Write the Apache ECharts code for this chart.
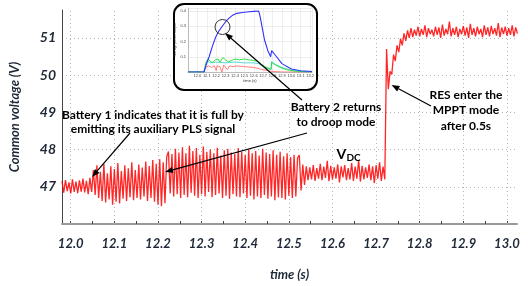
<!DOCTYPE html>
<html>
<head>
<meta charset="utf-8">
<script src="https://cdn.jsdelivr.net/npm/echarts@6/dist/echarts.min.js"></script>
<style>
  html, body { margin: 0; padding: 0; background: #fff; }
  #main { width: 528px; height: 286px; }
</style>
</head>
<body>
<div id="main"></div>
<script>
// sampled DC bus voltage, one value every 4 ms from 11.980 s
var T0 = 11.98, DT = 0.004;
var vdcBefore = [47.15, 46.84, 47.18, 46.88, 47.12, 46.82, 47.20, 46.86, 47.14, 46.83,
  47.17, 46.87, 47.22, 46.85, 47.16, 46.80, 47.24, 46.86];
var vdcBattery1 = [47.45, 46.78, 47.58, 46.70, 47.40, 46.62, 47.62, 46.58, 47.36, 46.66,
  47.55, 46.52, 47.48, 46.60, 47.64, 46.55, 47.42, 46.68, 47.58, 46.62,
  47.50, 46.72, 47.66, 46.64, 47.45, 46.70, 47.60, 46.66, 47.52, 46.74,
  47.68, 46.62, 47.56, 46.70, 47.72, 46.60, 47.62, 46.52, 47.74, 46.48,
  47.66, 46.56, 47.80];
var vdcBattery2 = [47.95, 46.82, 47.88, 46.74, 48.02, 46.80, 47.92, 46.70, 48.06, 46.78,
  47.90, 46.72, 48.10, 46.84, 47.96, 46.76, 48.04, 46.70, 47.86, 46.80,
  48.08, 46.74, 47.94, 46.86, 48.00, 46.72, 47.90, 46.78, 48.05, 46.82,
  47.84, 46.70, 47.98, 46.76, 48.02, 46.68, 47.92, 46.80, 47.88, 46.74,
  48.04, 46.72, 47.94, 46.82, 47.86, 46.70, 48.00, 46.76, 47.90, 46.66,
  47.96, 46.74, 47.84, 46.70, 48.02, 46.78, 47.92, 46.68, 47.88, 46.74,
  47.98, 46.64, 47.86, 46.72, 47.94, 46.70, 47.82, 46.66, 47.90, 46.76,
  47.80, 46.70, 47.86, 46.74, 47.78];
var vdcDroop = [47.85, 46.90, 47.60, 47.05, 47.55, 47.18, 47.52, 47.20, 47.58, 47.16,
  47.50, 47.22, 47.62, 47.18, 47.54, 47.24, 47.70, 47.15, 47.56, 47.20,
  47.52, 47.22, 47.60, 47.12, 47.55, 47.25, 47.58, 47.18, 47.50, 47.20,
  47.64, 47.16, 47.54, 47.22, 47.72, 47.14, 47.56, 47.20, 47.52, 47.24,
  47.60, 47.18, 47.55, 47.10, 47.58, 47.22, 47.66, 47.16, 47.54, 47.20];
var vdcMppt = [50.70, 49.62, 50.10, 50.02, 50.55, 50.38, 50.80, 50.62, 50.98, 50.80,
  51.12, 50.92, 51.20, 51.00, 51.26, 51.02, 51.22, 51.06, 51.30, 51.04,
  51.24, 51.08, 51.34, 51.02, 51.26, 51.10, 51.22, 51.04, 51.30, 51.08,
  51.28, 51.00, 51.36, 51.06, 51.24, 51.10, 51.44, 51.04, 51.26, 51.08,
  51.30, 51.02, 51.24, 51.10, 51.32, 51.06, 51.28, 51.00, 51.38, 51.08,
  51.26, 51.04, 51.30, 51.10, 51.24, 51.02, 51.34, 51.08, 51.28, 51.04,
  51.32, 51.10, 51.26, 51.06, 51.40, 51.02, 51.28, 51.10, 51.30, 51.06,
  51.26, 51.08, 51.34, 51.04, 51.28, 51.12];

var xLabels = [12.0, 12.1, 12.2, 12.3, 12.4, 12.5, 12.6, 12.7, 12.8, 12.9, 13.0];
var xTicks = [12.0, 12.05, 12.1, 12.15, 12.2, 12.25, 12.3, 12.35, 12.4, 12.45, 12.5,
  12.55, 12.6, 12.65, 12.7, 12.75, 12.8, 12.85, 12.9, 12.95, 13.0];
var yLabels = [47, 48, 49, 50, 51];

// inset: storage powers [time, pu]
var insetBlue = [[11.9, 0], [12.07, 0], [12.1, 0.06], [12.125, 0.1], [12.16, 0.17], [12.195, 0.23],
  [12.23, 0.27], [12.265, 0.30], [12.3, 0.33], [12.34, 0.355], [12.37, 0.37], [12.42, 0.385],
  [12.48, 0.39], [12.55, 0.395], [12.6, 0.398], [12.65, 0.40], [12.66, 0.385], [12.675, 0.34],
  [12.69, 0.29], [12.715, 0.21], [12.75, 0.14], [12.78, 0.10], [12.785, 0.095], [12.79, 0.14],
  [12.83, 0.11], [12.9, 0.055], [13.0, 0.02], [13.1, 0.008], [13.22, 0.003]];
var insetGreen = [[11.9, 0], [12.07, 0], [12.09, 0.06], [12.11, 0.085], [12.13, 0.075], [12.16, 0.06],
  [12.19, 0.08], [12.22, 0.085], [12.24, 0.065], [12.27, 0.095], [12.3, 0.08], [12.33, 0.065],
  [12.36, 0.075], [12.4, 0.085], [12.45, 0.08], [12.5, 0.085], [12.55, 0.08], [12.6, 0.075],
  [12.64, 0.07], [12.68, 0.05], [12.72, 0.035], [12.76, 0.025], [12.785, 0.02], [12.79, 0.06],
  [12.82, 0.05], [12.88, 0.03], [12.95, 0.015], [13.05, 0.005], [13.22, 0]];
var insetCyan = [[11.9, 0], [12.07, 0], [12.09, 0.05], [12.11, 0.07], [12.14, 0.06], [12.2, 0.065],
  [12.3, 0.06], [12.4, 0.065], [12.5, 0.06], [12.6, 0.06], [12.65, 0.055], [12.72, 0.03],
  [12.785, 0.015], [12.79, 0.07], [12.83, 0.05], [12.9, 0.03], [13.0, 0.012], [13.1, 0.004], [13.22, 0]];
var insetRed = [[11.9, 0], [12.07, 0], [12.09, 0.03], [12.12, 0.04], [12.15, 0.03], [12.18, 0.04],
  [12.2, 0.01], [12.21, 0.04], [12.24, 0.035], [12.26, 0.0], [12.28, 0.045], [12.3, 0.04],
  [12.32, 0.015], [12.34, 0.04], [12.38, 0.035], [12.42, 0.04], [12.5, 0.035], [12.6, 0.03],
  [12.7, 0.015], [12.78, 0.005], [12.9, 0], [13.22, 0]];
var insetXLabels = [12.0, 12.1, 12.2, 12.3, 12.4, 12.5, 12.6, 12.7, 12.8, 12.9, 13.0, 13.1, 13.2];
var insetYLabels = [0.1, 0.2, 0.3, 0.4];

var vdc = [].concat(vdcBefore, vdcBattery1, vdcBattery2, vdcDroop, vdcMppt);
var vdcData = vdc.map(function (v, i) {
  return [+(T0 + i * DT).toFixed(3), v];
});

var axisFont = { color: '#1f2937', fontWeight: 'bold', fontStyle: 'italic', fontFamily: 'Lato' };
var noteFont = 'bold 12px Lato';

function arrow(x1, y1, x2, y2) {
  var a = Math.atan2(y2 - y1, x2 - x1), L = 8, W = 3;
  var bx = x2 - L * Math.cos(a), by = y2 - L * Math.sin(a);
  return [
    { type: 'line', z: 40, shape: { x1: x1, y1: y1, x2: bx, y2: by }, style: { stroke: '#000', lineWidth: 1.2 } },
    { type: 'polygon', z: 40, shape: { points: [[x2, y2], [bx + W * Math.sin(a), by - W * Math.cos(a)], [bx - W * Math.sin(a), by + W * Math.cos(a)]] }, style: { fill: '#000' } }
  ];
}
function note(text, x, y, font) {
  return { type: 'text', z: 40, style: { text: text, x: x, y: y, font: font || noteFont, fill: '#000',
    textAlign: 'center', textVerticalAlign: 'middle', align: 'center', verticalAlign: 'middle' } };
}

var myChart = echarts.init(document.getElementById('main'));

var option = {
  animation: false,
  grid: [
    { left: 61, top: 10, right: 11, bottom: 58 },
    { left: 188, top: 8, right: 216, bottom: 214 }
  ],
  xAxis: [{
    type: 'value', min: 11.98, max: 13.023,
    name: 'time (s)', nameLocation: 'middle', nameGap: 44,
    nameTextStyle: Object.assign({ fontSize: 13 }, axisFont),
    axisLine: { lineStyle: { color: '#999', width: 2 } },
    axisTick: { inside: true, length: 3, customValues: xTicks, lineStyle: { color: '#444' } },
    axisLabel: Object.assign({ fontSize: 13, margin: 13, customValues: xLabels,
      formatter: function (v) { return v.toFixed(1); } }, axisFont),
    splitLine: { show: false }
  }, {
    gridIndex: 1, type: 'value', min: 11.9, max: 13.22, interval: 0.1, z: 10,
    name: 'time (s)', nameLocation: 'middle', nameGap: 7,
    nameTextStyle: { fontSize: 4, color: '#333' },
    axisLine: { lineStyle: { color: '#999', width: 0.6 } },
    axisTick: { show: false },
    axisLabel: { fontSize: 4, color: '#444', margin: 2, customValues: insetXLabels,
      formatter: function (v) { return v.toFixed(1); } },
    splitLine: { show: true, lineStyle: { color: '#e2e2e2', width: 0.6 } }
  }],
  yAxis: [{
    type: 'value', min: 46, max: 51.75, interval: 1,
    name: 'Common voltage (V)', nameLocation: 'middle', nameGap: 41,
    nameTextStyle: Object.assign({ fontSize: 13 }, axisFont),
    axisLine: { show: true, lineStyle: { color: '#444', width: 1 } },
    axisTick: { show: false },
    axisLabel: Object.assign({ fontSize: 14, margin: 6, padding: [5, 0, 0, 0], customValues: yLabels }, axisFont),
    splitLine: { show: true, showMinLine: false, showMaxLine: false,
      lineStyle: { color: '#b5b5b5', type: [1, 3], width: 1 } }
  }, {
    gridIndex: 1, type: 'value', min: 0, max: 0.42, interval: 0.1, z: 10,
    name: 'Storage power output', nameLocation: 'middle', nameGap: 8,
    nameTextStyle: { fontSize: 3.5, color: '#333' },
    axisLine: { show: true, lineStyle: { color: '#999', width: 0.6 } },
    axisTick: { show: false },
    axisLabel: { fontSize: 4, color: '#444', margin: 2, customValues: insetYLabels,
      formatter: function (v) { return v.toFixed(1); } },
    splitLine: { show: true, lineStyle: { color: '#e2e2e2', width: 0.6 } }
  }],
  series: [{
    name: 'VDC', type: 'line', showSymbol: false, z: 2,
    data: vdcData,
    lineStyle: { color: '#ff0000', width: 1.3, opacity: 0.85 },
    markLine: {
      silent: true, symbol: 'none', label: { show: false }, z: 1,
      lineStyle: { color: '#b5b5b5', type: [1, 3], width: 1 },
      data: xLabels.map(function (t) { return { xAxis: t }; })
    }
  }, {
    type: 'line', xAxisIndex: 1, yAxisIndex: 1, z: 10, showSymbol: false, data: insetRed,
    lineStyle: { color: '#ff6060', width: 0.8 }
  }, {
    type: 'line', xAxisIndex: 1, yAxisIndex: 1, z: 10, showSymbol: false, data: insetCyan,
    lineStyle: { color: '#30d0d0', width: 0.8 }
  }, {
    type: 'line', xAxisIndex: 1, yAxisIndex: 1, z: 10, showSymbol: false, data: insetGreen,
    lineStyle: { color: '#22dd33', width: 0.9 }
  }, {
    type: 'line', xAxisIndex: 1, yAxisIndex: 1, z: 10, showSymbol: false, data: insetBlue,
    lineStyle: { color: '#3030ff', width: 1.1 }
  }],
  graphic: [].concat(
    [{ type: 'rect', z: 5, shape: { x: 174, y: 4, width: 143, height: 86, r: 10 },
       style: { fill: '#fff', stroke: '#000', lineWidth: 2 } },
     { type: 'circle', z: 40, shape: { cx: 222.5, cy: 27, r: 7.5 },
       style: { fill: 'none', stroke: '#333', lineWidth: 1 } },
     note('Battery 1 indicates that it is full by', 153, 115),
     note('emitting its auxiliary PLS signal', 153, 129.5),
     note('Battery 2 returns', 336, 107),
     note('to droop mode', 336, 122),
     note('RES enter the', 466, 95),
     note('MPPT mode', 466, 110.5),
     note('after 0.5s', 466, 126),
     { type: 'text', z: 40, style: { text: 'V', x: 336.5, y: 154, font: 'bold 14px Lato', fill: '#000',
       textAlign: 'left', textVerticalAlign: 'middle', align: 'left', verticalAlign: 'middle' } },
     { type: 'text', z: 40, style: { text: 'DC', x: 346.5, y: 158, font: 'bold 10px Lato', fill: '#000',
       textAlign: 'left', textVerticalAlign: 'middle', align: 'left', verticalAlign: 'middle' } }],
    arrow(130, 133, 92, 177),
    arrow(307, 133, 165, 172),
    arrow(302, 100, 225, 33),
    arrow(431, 106, 391.5, 85)
  )
};

myChart.setOption(option);
</script>
</body>
</html>
